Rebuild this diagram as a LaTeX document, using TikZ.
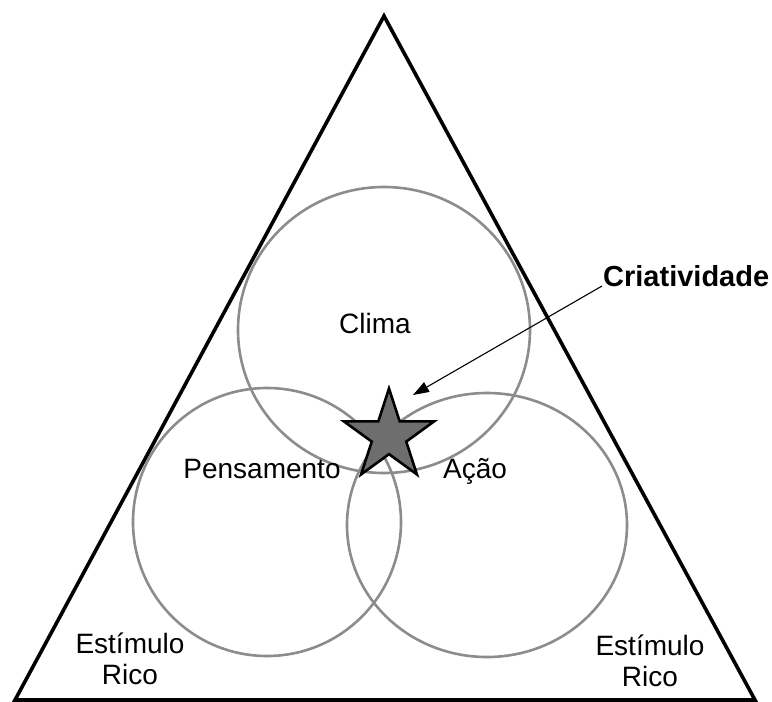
\documentclass[tikz,border=0pt]{standalone}
\usepackage{fontspec}
\setmainfont{Liberation Sans}
\usepackage{tikz}
\usetikzlibrary{shapes.geometric,arrows.meta}
\definecolor{anel}{HTML}{8C8C8C}
\definecolor{miolo}{HTML}{6E6E6E}

\begin{document}
\begin{tikzpicture}[
  x=1pt, y=-1pt,
  anel/.style={draw=anel, line width=2.6pt},
  rotulo/.style={align=center, inner sep=1pt, font=\fontsize{28}{31}\selectfont},
  arr/.style={-{Triangle[length=16pt, width=11pt]}, line width=1.1pt}
]
\useasboundingbox (0,0) rectangle (772,702);
\draw[line width=3.6pt] (384,16) -- (755,700) -- (15,700) -- cycle;
\draw[anel] (384,330) ellipse [x radius=146pt, y radius=143pt];
\draw[anel] (267,522) ellipse [x radius=134pt, y radius=134pt];
\draw[anel] (487,525) ellipse [x radius=140pt, y radius=132pt];
\node[star, star points=5, star point ratio=2.618, minimum size=95pt, inner sep=0pt,
      draw, line width=2.6pt, fill=miolo] (estrela) at (389,436) {};
\node[rotulo, anchor=base] (clima) at (375,333) {Clima};
\node[rotulo, anchor=base] (pensamento) at (262,478) {Pensamento};
\node[rotulo, anchor=base] (acao) at (475,478) {Ação};
\node[rotulo] (estimuloesq) at (130,659) {Estímulo\\Rico};
\node[rotulo] (estimulodir) at (650,661) {Estímulo\\Rico};
\node[rotulo, font=\fontsize{29}{31}\selectfont\bfseries, anchor=base west] (crea) at (602,286) {Criatividade};
\coordinate (alvo) at ([shift={(24,-41)}]estrela.center);
\draw[arr] (crea.base west) -- (alvo);
\end{tikzpicture}
\end{document}
